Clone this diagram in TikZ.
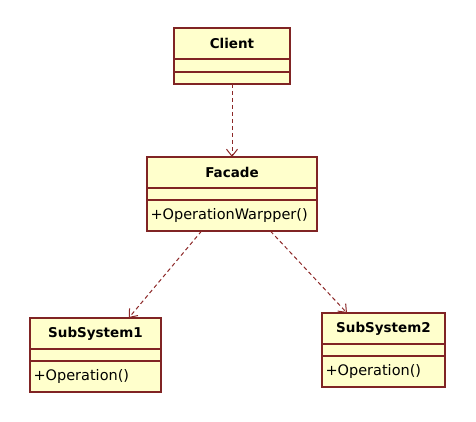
\documentclass[tikz,border=0pt]{standalone}
\usepackage{fontspec}
\setmainfont{DejaVu Sans}
\usepackage{tikz}
\usetikzlibrary{positioning,arrows.meta}
\definecolor{umlborder}{RGB}{128,36,36}
\definecolor{umlfill}{RGB}{255,255,204}
\definecolor{umlarrow}{RGB}{140,40,40}

\begin{document}
\begin{tikzpicture}[x=1pt,y=-1pt,node distance=0pt,font=\fontsize{14.5}{16}\selectfont]
    \tikzstyle{class}=[draw=umlborder, fill=umlfill, line width=1.2pt, inner sep=0pt, outer sep=0pt]
    \tikzstyle{class title}=[class, font=\fontsize{13.5}{16}\selectfont\bfseries]
    \tikzstyle{class ops}=[class, align=left, inner xsep=3.5pt]
    \tikzstyle{dependency}=[draw=umlarrow, dash pattern=on 4pt off 3pt, line width=1pt,
        -{Straight Barb[length=7pt,width=11pt,line width=1pt]}]

    \useasboundingbox (0,0) rectangle (476,422);

    % Draw the client class
    \node[class title, anchor=north west, minimum width=116pt, minimum height=31pt] (client) at (174,28) {Client};
    \node[class, below=of client, minimum width=116pt, minimum height=13pt] (client-attr) {};
    \node[class, below=of client-attr, minimum width=116pt, minimum height=12pt] (client-ops) {};

    % Draw the facade class
    \node[class title, anchor=north west, minimum width=170pt, minimum height=31pt] (facade) at (147,157) {Facade};
    \node[class, below=of facade, minimum width=170pt, minimum height=12pt] (facade-attr) {};
    \node[class ops, below=of facade-attr, text width=163pt, minimum height=31pt] (facade-ops) {+OperationWarpper()};

    % Draw the subsystem classes
    \foreach \name / \x / \y / \w in {1/30/318/131, 2/322/313/123}
    {
        \node[class title, anchor=north west, minimum width=\w pt, minimum height=31pt] (sub\name) at (\x,\y) {SubSystem\name};
        \node[class, below=of sub\name, minimum width=\w pt, minimum height=12pt] (sub\name-attr) {};
        \node[class ops, below=of sub\name-attr, text width=\w pt-7pt, minimum height=31pt] (sub\name-ops) {+Operation()};
    }

    % Connect the client and the subsystems to the facade
    \draw[dependency] (client-ops) -- (facade);
    \draw[dependency] (facade-ops.207) -- (sub1.25);
    \draw[dependency] (facade-ops.338) -- (sub2.157);
\end{tikzpicture}
\end{document}
